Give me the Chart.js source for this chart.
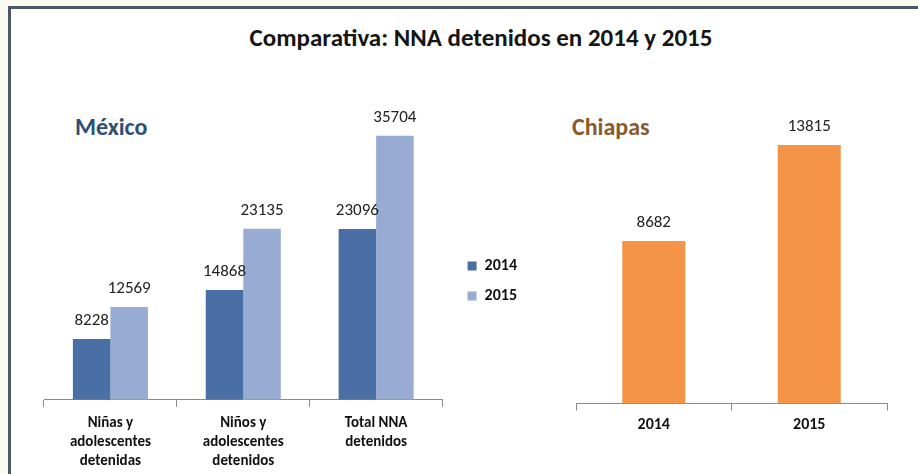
<!DOCTYPE html>
<html>
<head>
<meta charset="utf-8">
<script src="https://cdn.jsdelivr.net/npm/chart.js@4.4.0/dist/chart.umd.min.js"></script>
<style>
  html, body { margin: 0; padding: 0; }
  body { width: 918px; height: 474px; background: #fbfaf1; position: relative; overflow: hidden; font-family: Carlito, Lato, sans-serif; }
  #frame { position: absolute; left: 8px; top: 6px; right: 0; bottom: 0; background: #fff; border-left: 3px solid #4b586a; border-top: 3px solid #4b586a; }
  #title { position: absolute; left: 22px; width: 918px; top: 22px; text-align: center; font-size: 25px; font-weight: 700; color: #151515; }
  .head { position: absolute; top: 112px; font-size: 24px; font-weight: 700; }
  #mx { left: 75px; color: #2f4f75; }
  #ch { left: 572px; color: #8b5a2b; }
  #left { position: absolute; left: 0; top: 100px; }
  #right { position: absolute; left: 540px; top: 100px; }
</style>
</head>
<body>
<div id="frame"></div>
<div id="title">Comparativa: NNA detenidos en 2014 y 2015</div>
<div class="head" id="mx">México</div>
<div class="head" id="ch">Chiapas</div>
<canvas id="left" width="527" height="380"></canvas>
<canvas id="right" width="378" height="373"></canvas>
<script>
const mexCategories = [['Niñas y', 'adolescentes', 'detenidas'], ['Niños y', 'adolescentes', 'detenidos'], ['Total NNA', 'detenidos']];
const mex2014 = [8228, 14868, 23096];
const mex2015 = [12569, 23135, 35704];
const chiCategories = ['2014', '2015'];
const chiValues = [8682, 13815];

const fontFamily = 'Carlito, Lato, sans-serif';

// draws the number above each bar
const valueLabels = {
    id: 'valueLabels',
    afterDatasetsDraw(chart) {
        const ctx = chart.ctx;
        ctx.save();
        ctx.font = '17px ' + fontFamily;
        ctx.fillStyle = '#222';
        ctx.textAlign = 'center';
        ctx.textBaseline = 'middle';
        chart.data.datasets.forEach((ds, i) => {
            chart.getDatasetMeta(i).data.forEach((bar, j) => {
                ctx.fillText(ds.data[j], bar.x, bar.y - 18);
            });
        });
        ctx.restore();
    }
};

const xAxis = (lines) => ({
    grid: { display: true, drawOnChartArea: false, drawTicks: true, tickLength: 7, color: '#8a8a8a', offset: true },
    border: { display: true, color: '#8a8a8a', width: 1 },
    ticks: {
        color: '#111', padding: lines ? 7 : 3,
        font: { family: fontFamily, size: lines ? 15 : 16, weight: 'bold', lineHeight: lines ? 1.27 : 1.4 }
    }
});

new Chart(document.getElementById('left'), {
    type: 'bar',
    data: {
        labels: mexCategories,
        datasets: [
            { label: '2014', data: mex2014, backgroundColor: '#4a6fa5' },
            { label: '2015', data: mex2015, backgroundColor: '#98acd3' }
        ]
    },
    options: {
        responsive: false,
        animation: false,
        events: [],
        layout: { padding: { left: 44, top: 4, right: 0, bottom: 2 } },
        datasets: { bar: { barPercentage: 1, categoryPercentage: 0.565 } },
        scales: {
            x: xAxis(true),
            y: {
                position: 'right', min: 0, max: 40000,
                grid: { display: false }, border: { display: false },
                ticks: { display: false },
                afterFit: (s) => { s.width = 11; }
            }
        },
        plugins: {
            legend: {
                position: 'right',
                align: 'start',
                // empty title used only as a spacer above the items
                title: { display: true, text: ' ', font: { size: 10, lineHeight: 1.2 }, padding: { top: 128, bottom: 0 } },
                labels: {
                    boxWidth: 9, boxHeight: 9, padding: 14, color: '#111',
                    font: { family: fontFamily, size: 16, weight: 'bold' }
                }
            },
            tooltip: { enabled: false }
        }
    },
    plugins: [valueLabels]
});

new Chart(document.getElementById('right'), {
    type: 'bar',
    data: {
        labels: chiCategories,
        datasets: [{ label: 'Chiapas', data: chiValues, backgroundColor: '#f59447' }]
    },
    options: {
        responsive: false,
        animation: false,
        events: [],
        layout: { padding: { left: 36, top: 4, right: 31, bottom: 34 } },
        datasets: { bar: { barPercentage: 1, categoryPercentage: 0.405 } },
        scales: {
            x: xAxis(false),
            y: { display: false, min: 0, max: 16000 }
        },
        plugins: { legend: { display: false }, tooltip: { enabled: false } }
    },
    plugins: [valueLabels]
});
</script>
</body>
</html>
